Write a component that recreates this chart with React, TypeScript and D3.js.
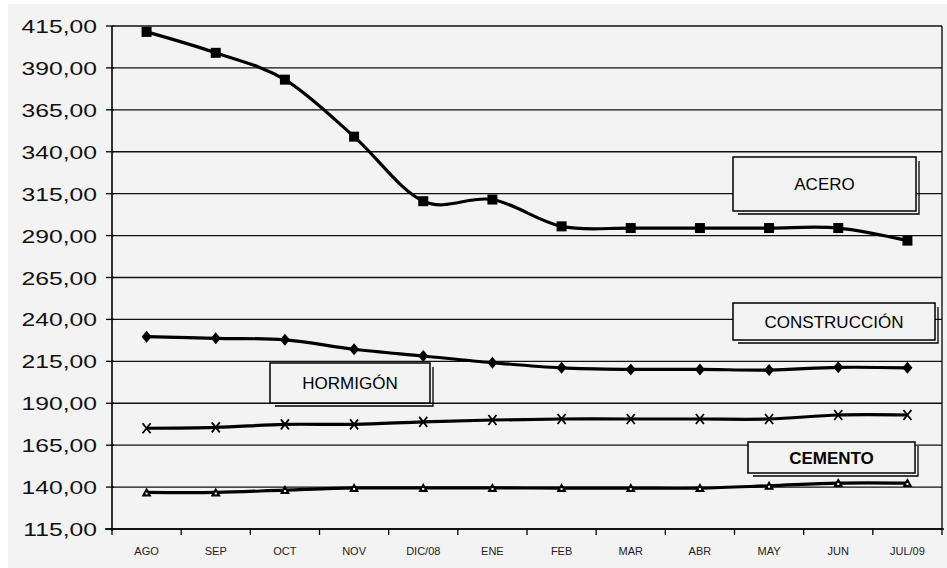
import React from 'react';
import * as d3 from 'd3';

const categories = ['AGO', 'SEP', 'OCT', 'NOV', 'DIC/08', 'ENE', 'FEB', 'MAR', 'ABR', 'MAY', 'JUN', 'JUL/09'];
const acero = [411.5, 399, 383, 349, 310.5, 311.5, 295.5, 294.5, 294.5, 294.5, 294.5, 287];
const construccion = [229.7, 228.7, 227.8, 222.2, 218.2, 214.2, 211.1, 210.2, 210.2, 209.8, 211.4, 211.1];
const hormigon = [175.1, 175.6, 177.4, 177.4, 178.9, 180, 180.6, 180.6, 180.6, 180.6, 183, 183];
const cemento = [136.8, 136.8, 138.2, 139.5, 139.5, 139.5, 139.4, 139.4, 139.4, 140.8, 142.4, 142.4];
const yTicks = [115, 140, 165, 190, 215, 240, 265, 290, 315, 340, 365, 390, 415];
const seriesNames = ['ACERO', 'CONSTRUCCIÓN', 'HORMIGÓN', 'CEMENTO'];

const W = 947;
const H = 568;
const BG = '#f3f3f3';
const left = 112;
const right = 942;
const top = 26;
const bottom = 529;

export default function App() {
  const x = d3.scaleBand<string>().domain(categories).range([left, right]);
  const y = d3.scaleLinear().domain([115, 415]).range([bottom, top]);
  const cx = (c: string) => (x(c) as number) + x.bandwidth() / 2;
  const line = d3
    .line<number>()
    .x((_, i) => cx(categories[i]))
    .y((v) => y(v))
    .curve(d3.curveCatmullRom.alpha(0));
  const fmt = (v: number) => d3.format('.2f')(v).replace('.', ',');

  const series = [
    { name: seriesNames[0], values: acero, marker: 'square' },
    { name: seriesNames[1], values: construccion, marker: 'diamond' },
    { name: seriesNames[2], values: hormigon, marker: 'x' },
    { name: seriesNames[3], values: cemento, marker: 'triangle' },
  ];

  const boxes = [
    { label: seriesNames[0], x: 733, y: 157, w: 183, h: 54, bold: false },
    { label: seriesNames[1], x: 733, y: 303, w: 202, h: 37, bold: false },
    { label: seriesNames[2], x: 270, y: 363, w: 160, h: 40, bold: false },
    { label: seriesNames[3], x: 748, y: 442, w: 167, h: 31, bold: true },
  ];

  const marker = (type: string, px: number, py: number, key: string) => {
    if (type === 'square') return <rect key={key} x={px - 5} y={py - 5} width={10} height={10} fill="#000" />;
    if (type === 'diamond')
      return <path key={key} d={`M${px},${py - 6}L${px + 5},${py}L${px},${py + 6}L${px - 5},${py}Z`} fill="#000" />;
    if (type === 'x')
      return (
        <path key={key} d={`M${px - 4},${py - 5}L${px + 4},${py + 5}M${px + 4},${py - 5}L${px - 4},${py + 5}`} stroke="#000" strokeWidth={1.8} fill="none" />
      );
    return (
      <g key={key}>
        <path d={`M${px},${py - 5}L${px + 5},${py + 4}L${px - 5},${py + 4}Z`} fill="#000" />
        <rect x={px - 1} y={py} width={2} height={2} fill="#fff" />
      </g>
    );
  };

  return (
    <svg width={W} height={H} style={{ position: 'absolute', left: 0, top: 0 }} fontFamily="'Liberation Sans', Arial, sans-serif">
      <rect x={0} y={0} width={W} height={H} fill="#fff" />
      <rect x={8} y={4} width={W - 8} height={H - 4} fill={BG} />
      {/* gridlines */}
      {yTicks.map((t) => (
        <line key={'g' + t} x1={left} x2={right} y1={y(t)} y2={y(t)} stroke="#111" strokeWidth={1.4} />
      ))}
      <line x1={right} x2={right} y1={top} y2={bottom} stroke="#111" strokeWidth={1.4} />
      {/* y axis */}
      <line x1={left} x2={left} y1={top} y2={bottom + 2} stroke="#000" strokeWidth={1.6} />
      {yTicks.map((t) => (
        <g key={'yt' + t}>
          <line x1={left - 6} x2={left + 2} y1={y(t)} y2={y(t)} stroke="#000" strokeWidth={1.3} />
          <text transform={`translate(97,${y(t) + 7}) scale(1.3,1)`} textAnchor="end" fontSize={19} fill="#111">
            {fmt(t)}
          </text>
        </g>
      ))}
      {/* x axis */}
      <line x1={left - 7} x2={right + 2} y1={bottom} y2={bottom} stroke="#000" strokeWidth={1.6} />
      {[...categories.map((c) => x(c) as number), right].map((v, i) => (
        <line key={'xt' + i} x1={v} x2={v} y1={bottom} y2={bottom + 6} stroke="#000" strokeWidth={1.3} />
      ))}
      {categories.map((c) => (
        <text key={'xl' + c} x={cx(c)} y={555} textAnchor="middle" fontSize={11} fill="#222">
          {c}
        </text>
      ))}
      {/* series */}
      {series.map((s) => (
        <g key={s.name}>
          <path d={line(s.values) || ''} fill="none" stroke="#000" strokeWidth={3.2} />
          {s.values.map((v, i) => marker(s.marker, cx(categories[i]), y(v), s.name + i))}
        </g>
      ))}
      {/* label boxes */}
      {boxes.map((b) => (
        <g key={b.label}>
          <rect x={b.x} y={b.y} width={b.w} height={b.h} fill={BG} stroke="#000" strokeWidth={1.5} />
          <path
            d={`M${b.x + 5},${b.y + b.h + 3}H${b.x + b.w + 3}V${b.y + 4}`}
            fill="none"
            stroke="#000"
            strokeWidth={1.3}
          />
          <text
            x={b.x + b.w / 2}
            y={b.y + b.h / 2 + 6}
            textAnchor="middle"
            fontSize={17}
            fontWeight={b.bold ? 'bold' : 'normal'}
            fill="#000"
          >
            {b.label}
          </text>
        </g>
      ))}
    </svg>
  );
}
